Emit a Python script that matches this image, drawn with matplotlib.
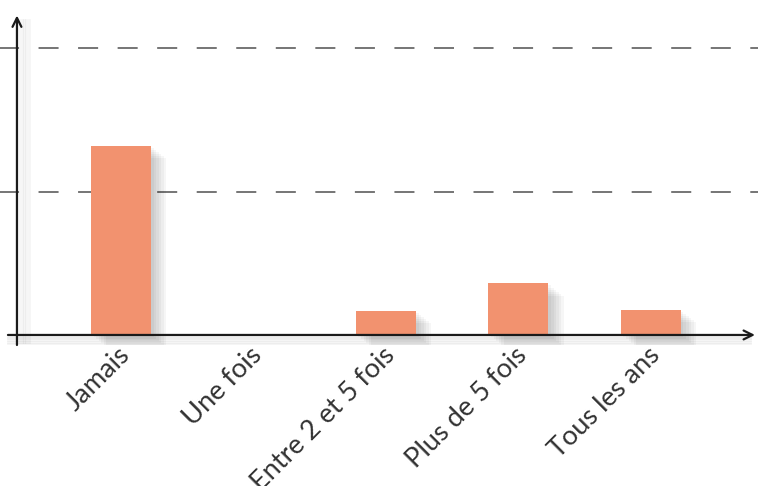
import matplotlib
matplotlib.use("Agg")
import matplotlib.pyplot as plt
import matplotlib.transforms as mtransforms
import numpy as np

# données
categories = ["Jamais", "Une fois", "Entre 2 et 5 fois", "Plus de 5 fois", "Tous les ans"]
valeurs = [13.2, 0.0, 1.7, 3.6, 1.75]
grille = [10, 20]

plt.rcParams['font.family'] = ['Lato', 'DejaVu Sans']

fig = plt.figure(figsize=(7.58, 4.86), dpi=100)
ax = fig.add_axes([0, 141 / 486, 1, 345 / 486])
ax.set_xlim(-0.913, 4.808)
ax.set_ylim(-0.70, 23.38)
for s in ax.spines.values():
    s.set_visible(False)
ax.set_yticks([])

x = np.arange(len(categories))
largeur = 0.453

# ombres des barres
for k in range(6):
    d = 0.012 * (k + 1)
    ax.bar(x + d * 1.6, valeurs, width=largeur, bottom=-d * 12,
           color='black', alpha=0.035, zorder=2, linewidth=0)

ax.bar(x, valeurs, width=largeur, color='#F2926F', zorder=3, linewidth=0)

# lignes pointillées
for g in grille:
    ax.plot([-0.93, 4.808], [g, g], color='#6a6a6a', lw=1.3,
            dashes=(11.1, 10.8), zorder=1)

# ombres des axes
for k in range(5):
    d = 0.012 * (k + 1)
    ax.plot([-0.785 + d * 1.5, -0.785 + d * 1.5], [-0.5, 22.0], color='black',
            alpha=0.04, lw=2, zorder=1)
    ax.plot([-0.85, 4.75], [-d * 10, -d * 10], color='black',
            alpha=0.04, lw=2, zorder=1)

# axes avec flèches
ax.annotate('', xy=(-0.785, 22.3), xytext=(-0.785, -0.70),
            arrowprops=dict(arrowstyle='->', color='#1a1a1a', lw=1.6,
                            mutation_scale=16, shrinkA=0, shrinkB=0), zorder=5)
ax.annotate('', xy=(4.785, 0), xytext=(-0.853, 0),
            arrowprops=dict(arrowstyle='->', color='#1a1a1a', lw=1.6,
                            mutation_scale=16, shrinkA=0, shrinkB=0), zorder=5)

ax.set_xticks(x)
ax.set_xticklabels(categories, rotation=45, ha='right', rotation_mode='anchor',
                   fontsize=19.5, color='#333333')
ax.tick_params(axis='x', length=0, pad=1)

# petit décalage des étiquettes
decalage = mtransforms.ScaledTranslation(-4 / 100, 4 / 100, fig.dpi_scale_trans)
for lab in ax.get_xticklabels():
    lab.set_transform(lab.get_transform() + decalage)

fig.savefig('out.png', dpi=100)
